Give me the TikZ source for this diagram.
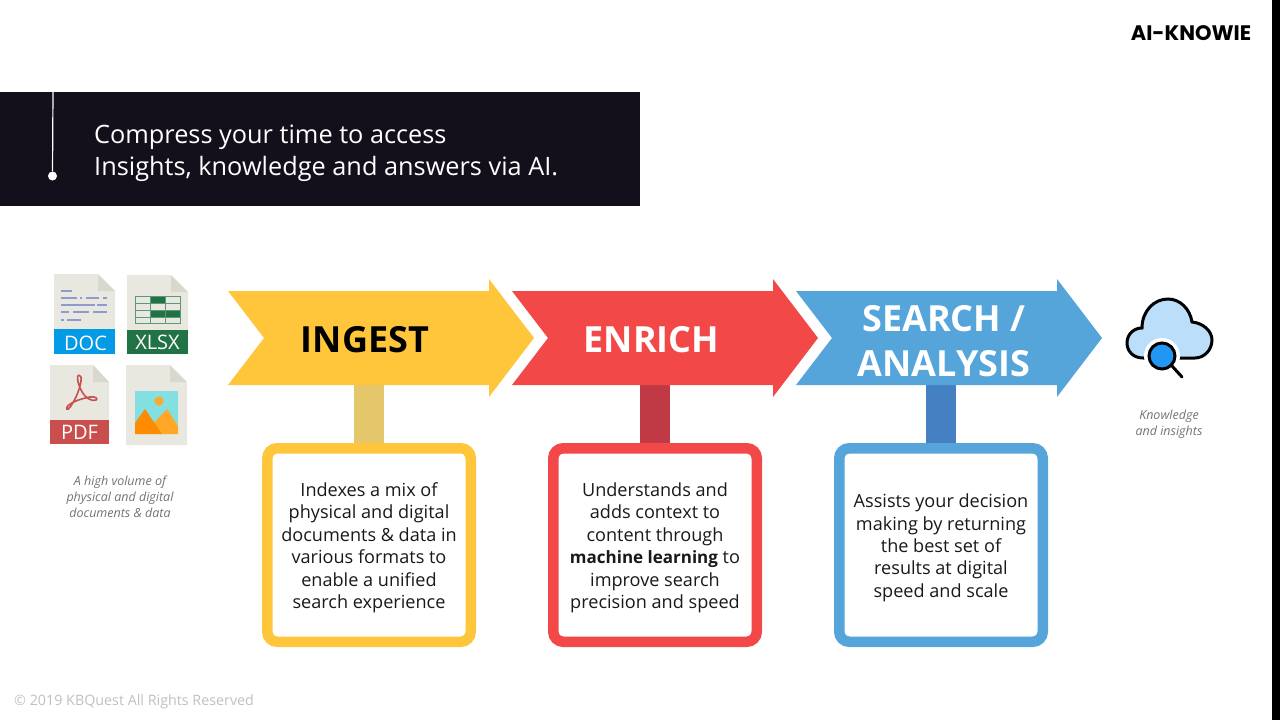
\documentclass[tikz,border=0pt]{standalone}
\usepackage{fontspec}
\setmainfont{Open Sans}
\newfontfamily\logofont{Poppins}
\usetikzlibrary{positioning,backgrounds}
\definecolor{banner}{RGB}{20,16,27}
\definecolor{ingestc}{RGB}{255,198,59}
\definecolor{enrichc}{RGB}{243,72,72}
\definecolor{searchc}{RGB}{85,165,219}
\definecolor{ingeststem}{RGB}{229,199,107}
\definecolor{enrichstem}{RGB}{191,58,69}
\definecolor{searchstem}{RGB}{68,128,194}
\definecolor{page}{RGB}{232,232,224}
\definecolor{fold}{RGB}{216,216,204}
\definecolor{docline}{RGB}{140,155,208}
\definecolor{docblue}{RGB}{3,155,229}
\definecolor{pdfred}{RGB}{201,79,79}
\definecolor{xlsgreen}{RGB}{33,115,70}
\definecolor{xlsgrid}{RGB}{90,154,120}
\definecolor{sky}{RGB}{132,224,224}
\definecolor{peakdark}{RGB}{255,140,0}
\definecolor{peaklight}{RGB}{255,167,38}
\definecolor{cloudfill}{RGB}{187,222,251}
\definecolor{lens}{RGB}{33,150,243}
\newcommand{\boxgap}{\rule{0pt}{19.5pt}}

\begin{document}
\begin{tikzpicture}[
  x=1pt, y=-1pt,
  head/.style={font=\fontsize{36}{45}\selectfont\bfseries, align=center, inner sep=0pt},
  descbox/.style={draw, line width=10.5pt, rounded corners=10pt, fill=white, align=center,
                  minimum width=203.5pt, minimum height=193.5pt, inner sep=0pt,
                  font=\fontsize{18.1}{22.4}\selectfont, text=black!90},
  stem/.style={line width=30pt},
  caption/.style={font=\fontsize{12.5}{16}\selectfont\itshape, text=black!55, align=center, inner sep=0pt},
  band/.style={font=\fontsize{20}{22}\selectfont, text=white, inner sep=0pt},
]
\useasboundingbox (0,0) rectangle (1280,720);
\fill[black] (1272,0) rectangle (1280,720);

% ---------- Banner ----------
\fill[banner] (0,92) rectangle (640,206);
\coordinate (linetop) at (53,92);
\node[circle, fill=white, minimum size=9pt, inner sep=0pt] (linedot) at (52.5,176) {};
\draw[white, line width=1.2pt] (linetop) -- (linedot);
\node[anchor=west, text=white, align=left, inner sep=0pt, font=\fontsize{25.3}{32}\selectfont] (title) at (94,153)
  {Compress your time to access\\Insights, knowledge and answers via AI.};
\node[font=\logofont\fontsize{21}{24}\selectfont\bfseries, inner sep=0pt] (logo) at (1191,33) {AI-KNOWIE};

% ---------- Three arrows ----------
\foreach \x/\c in {228/ingestc,512/enrichc,796/searchc}{
  \fill[\c] (\x,291) -- ++(261,0) -- ++(0,-12) -- ++(45,59) -- ++(-45,59) -- ++(0,-12)
            -- ++(-261,0) -- ++(36,-47) -- cycle;
}
\node[head, text=black] (ingest) at (365,339.5) {INGEST};
\node[head, text=white] (enrich) at (651.5,339.5) {ENRICH};
\node[head, text=white] (search) at (944,341) {SEARCH /\\ANALYSIS};

% ---------- Description boxes ----------
\coordinate (ingesttop) at (369,385);
\coordinate (enrichtop) at (655,385);
\coordinate (searchtop) at (941,385);
\node[descbox, draw=ingestc, below=58pt of ingesttop] (ingestbox)
  {\boxgap Indexes a mix of\\physical and digital\\documents \& data in\\various formats to\\enable a unified\\search experience};
\node[descbox, draw=enrichc, below=58pt of enrichtop] (enrichbox)
  {\boxgap Understands and\\adds context to\\content through\\{\fontsize{17}{22.4}\selectfont\textbf{machine learning}} to\\improve search\\precision and speed};
\node[descbox, draw=searchc, below=58pt of searchtop] (searchbox)
  {\boxgap Assists your decision\\making by returning\\the best set of\\results at digital\\speed and scale};
\begin{scope}[on background layer]
  \draw[stem, ingeststem] (ingesttop) -- (ingestbox.north);
  \draw[stem, enrichstem] (enrichtop) -- (enrichbox.north);
  \draw[stem, searchstem] (searchtop) -- (searchbox.north);
\end{scope}

% ---------- Document icons ----------
\foreach \l/\t/\r/\b/\f in {54/274/115/354/98,127/275/188/354/171,50/365/109/444/93,126/365/187/445/170}{
  \fill[page] (\l,\t) -- (\f,\t) -- (\r,\t+17) -- (\r,\b) -- (\l,\b) -- cycle;
  \fill[fold] (\f,\t) -- (\r,\t+17) -- (\f,\t+17) -- cycle;
}
\fill[docblue] (54,329) rectangle (115,354);
\fill[xlsgreen] (127,330) rectangle (188,354);
\fill[pdfred] (50,420) rectangle (109,444);
\node[band] (doc) at (85.5,343) {DOC};
\node[band] (xlsx) at (157.5,342.5) {XLSX};
\node[band] (pdf) at (79.5,432.5) {PDF};
% doc text lines
\foreach \y/\a/\e in {291/61/72,298/61/77,298/80/82,298/86/99,298/103/107,305/61/95,305/97/107,
                      312/61/69,312/73/89,312/93/107,320/61/64,320/67/81}{
  \draw[docline, line width=2pt] (\a,\y) -- (\e,\y);
}
% sheet grid
\fill[xlsgreen] (150,296) rectangle (165,303);
\fill[xlsgreen] (150,310) rectangle (180,317);
\draw[xlsgrid, line width=1pt] (135,296) rectangle (180,323);
\foreach \y in {303,310,317}{\draw[xlsgrid, line width=1pt] (135,\y) -- (180,\y);}
\foreach \x in {150,165}{\draw[xlsgrid, line width=1pt] (\x,296) -- (\x,323);}
% acrobat mark
\draw[pdfred, line width=1.6pt] (79,375) .. controls (83,375) and (81,386) .. (76,397)
  .. controls (72,405) and (68,411) .. (67,409) .. controls (65,405) and (78,399) .. (90,397)
  .. controls (96,396) and (98,399) .. (96,400) .. controls (92,402) and (85,398) .. (81,390)
  .. controls (78,384) and (76,375) .. (79,375);
% picture
\fill[sky] (135,391) rectangle (178,434);
\fill[peaklight] (159,401) circle (4.5);
\fill[peaklight] (154,423) -- (167,409) -- (178,426) -- (178,434) -- (160,434) -- cycle;
\fill[peakdark] (135,423) -- (145,409) -- (162,434) -- (135,434) -- cycle;
\node[caption] (sourcetext) at (120,497) {A high volume of\\physical and digital\\documents \& data};

% ---------- Cloud icon ----------
\draw[black, line width=3pt, fill=cloudfill, line cap=round]
  (1143,358) .. controls (1133,358) and (1127,351) .. (1127,343)
  .. controls (1127,334) and (1134,328) .. (1142,328)
  .. controls (1142,311) and (1154,299) .. (1168,299)
  .. controls (1180,299) and (1190,309) .. (1192,322)
  .. controls (1203,323) and (1212,331) .. (1212,340)
  .. controls (1212,350) and (1204,358) .. (1195,358) -- (1143,358);
\fill[white] (1162,356) circle (18);
\draw[black, line width=3pt, line cap=round] (1172,366) -- (1182,377);
\draw[black, line width=3pt, fill=lens] (1162,356) circle (13);
\node[caption] (resulttext) at (1169,424) {Knowledge\\and insights};

\node[anchor=west, inner sep=0pt, text=black!25, font=\fontsize{14.3}{18}\selectfont] (footer) at (14,702)
  {© 2019 KBQuest All Rights Reserved};
\end{tikzpicture}
\end{document}
